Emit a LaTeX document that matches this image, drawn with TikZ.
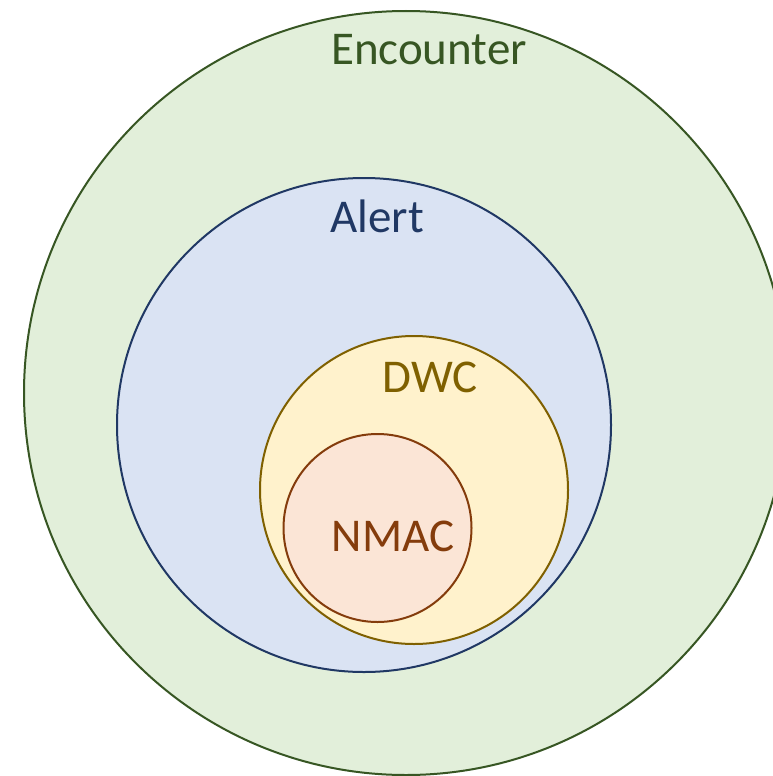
\documentclass[tikz,border=0pt]{standalone}
\usepackage{fontspec}
\setmainfont{Carlito}
\definecolor{encfill}{HTML}{E2EFDA}
\definecolor{encline}{HTML}{375623}
\definecolor{alfill}{HTML}{DAE3F3}
\definecolor{alline}{HTML}{203864}
\definecolor{dwcfill}{HTML}{FFF2CC}
\definecolor{dwcline}{HTML}{7F6000}
\definecolor{nmfill}{HTML}{FBE5D6}
\definecolor{nmline}{HTML}{843C0C}
\tikzset{
  ring/.style={line width=2pt},
  lbl/.style={anchor=base, inner sep=0pt, font=\fontsize{47pt}{56pt}\selectfont}
}
\begin{document}
\begin{tikzpicture}[x=1pt,y=-1pt]
\useasboundingbox (0,0) rectangle (773,776);
\begin{scope}
\clip (0,0) rectangle (773,776);
\draw[ring, draw=encline, fill=encfill] (406,393) circle (382);
\draw[ring, draw=alline, fill=alfill] (364,425) circle (247);
\draw[ring, draw=dwcline, fill=dwcfill] (414,490) circle (154);
\draw[ring, draw=nmline, fill=nmfill] (377.5,528) circle (94);
\end{scope}
\node[lbl, text=encline] (enc) at (429,64) {Encounter};
\node[lbl, text=alline] (alert) at (377,232.7) {Alert};
\node[lbl, text=dwcline] (dwc) at (430,392.7) {DWC};
\node[lbl, text=nmline] (nmac) at (393,551.7) {NMAC};
\end{tikzpicture}
\end{document}
